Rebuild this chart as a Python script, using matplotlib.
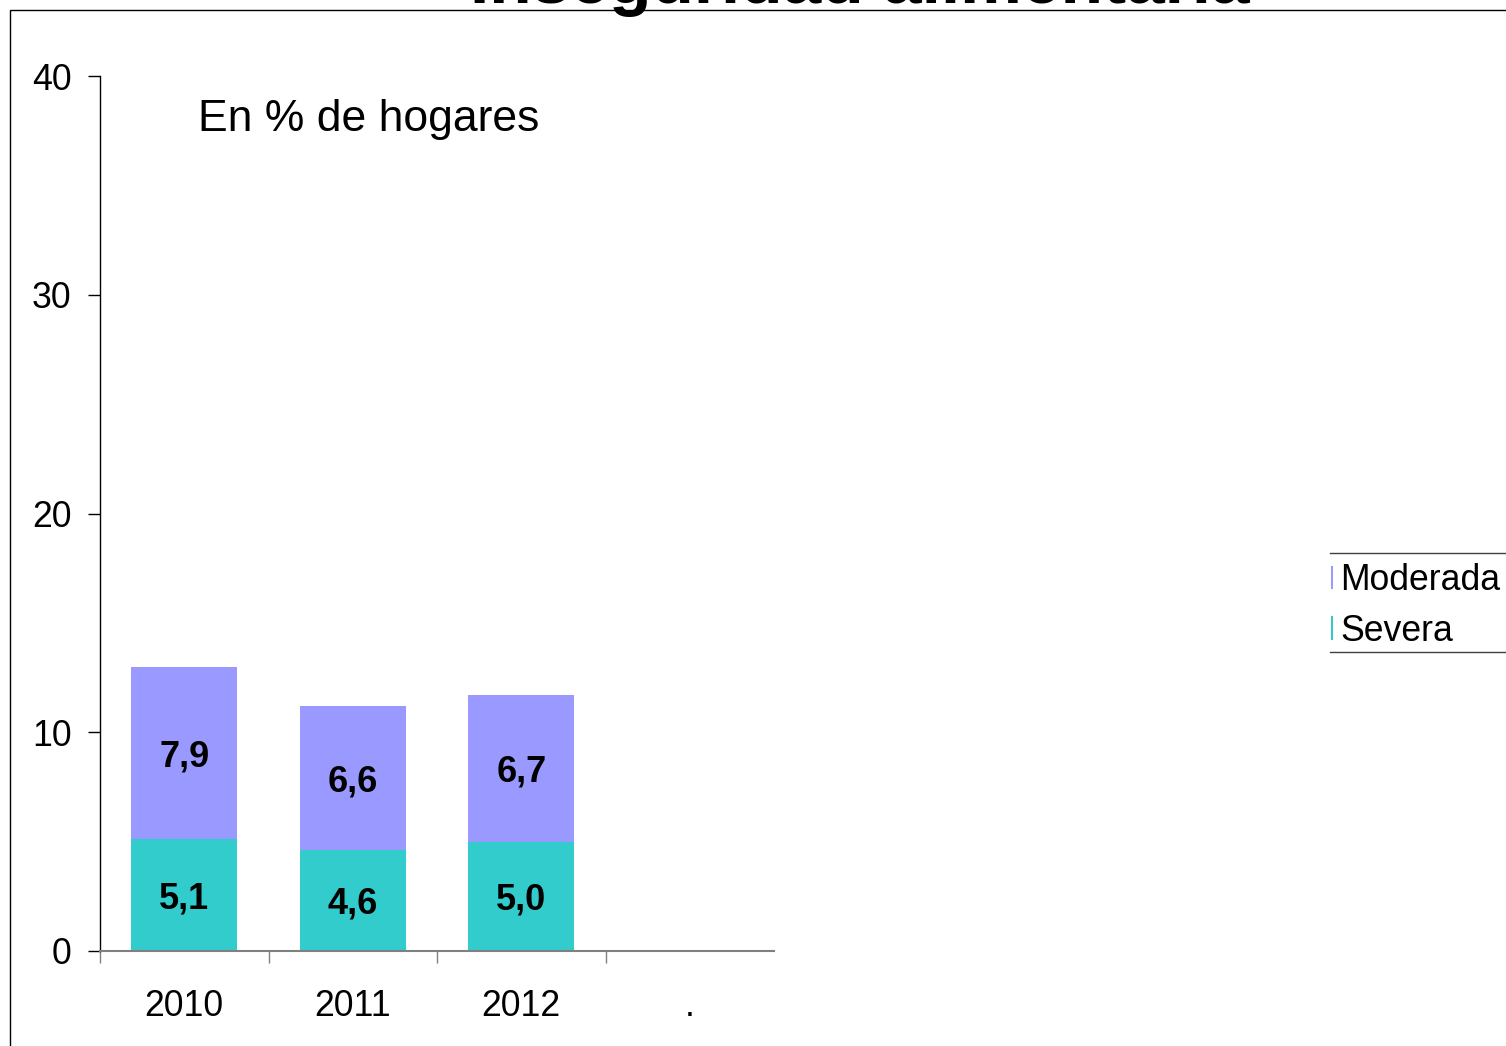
import matplotlib
matplotlib.use("Agg")
import matplotlib.pyplot as plt
from matplotlib.patches import Patch, Rectangle
from matplotlib.lines import Line2D
import matplotlib.transforms as mtransforms
import numpy as np

plt.rcParams['font.family'] = ['Liberation Sans', 'DejaVu Sans']

categories = ["2010", "2011", "2012", "."]
severa = [5.1, 4.6, 5.0]
moderada = [7.9, 6.6, 6.7]
series_names = ["Moderada", "Severa"]
title = "Inseguridad alimentaria"
subtitle = "En % de hogares"
yticks = [0, 10, 20, 30, 40]

c_sev = "#33CCCC"
c_mod = "#9999FF"

W, H = 1506, 1046
fig = plt.figure(figsize=(W / 100, H / 100), dpi=100)

def fx(px):
    return px / W

def fy(py):
    return 1 - py / H

ax = fig.add_axes([fx(100), fy(951), fx(674), (951 - 76) / H])

x = np.arange(len(severa))
bw = 0.63
ax.bar(x, severa, width=bw, color=c_sev, edgecolor='none', zorder=2)
ax.bar(x, moderada, width=bw, bottom=severa, color=c_mod, edgecolor='none', zorder=2)

# labels: digits centred on the segment middle (baseline shifted down by half cap height)
lab_tr = mtransforms.offset_copy(ax.transData, fig=fig, x=0, y=-13, units='dots')
for xi, s, m in zip(x, severa, moderada):
    ax.text(xi, s / 2, f"{s:.1f}".replace('.', ','), ha='center', va='baseline',
            fontsize=26, fontweight='bold', color='black', zorder=3, transform=lab_tr)
    ax.text(xi, s + m / 2, f"{m:.1f}".replace('.', ','), ha='center', va='baseline',
            fontsize=26, fontweight='bold', color='black', zorder=3, transform=lab_tr)

ax.set_xlim(-0.5, len(categories) - 0.5)
ax.set_ylim(0, 40)

for side in ['top', 'right']:
    ax.spines[side].set_visible(False)
ax.spines['left'].set_color('black')
ax.spines['left'].set_linewidth(1.0)
ax.spines['bottom'].set_color('#808080')
ax.spines['bottom'].set_linewidth(1.5)

ax.set_yticks(yticks)
ax.set_yticklabels([str(v) for v in yticks])
ax.tick_params(axis='y', direction='out', length=8.6, width=1.0, color='black',
               labelsize=25.7, pad=12)

ax.set_xticks(np.arange(len(categories)) - 0.5)
ax.set_xticklabels([])
ax.tick_params(axis='x', which='major', direction='out', length=8.6, width=1.0,
               color='#808080')
ax.set_xticks(np.arange(len(categories)), minor=True)
ax.set_xticklabels(categories, minor=True)
ax.tick_params(axis='x', which='minor', length=0, labelsize=25.7, pad=27)

fig.text(fx(198), fy(131), subtitle, fontsize=32, ha='left', va='baseline')

fig.text(fx(860), fy(3), title, fontsize=50, fontweight='bold',
         ha='center', va='baseline')

border = Rectangle((fx(10), -0.1), 1.2, fy(10) + 0.1, transform=fig.transFigure,
                   fill=False, edgecolor='black', linewidth=1.0, zorder=10)
fig.add_artist(border)

handles = [Patch(facecolor=c_mod, edgecolor='none'),
           Patch(facecolor=c_sev, edgecolor='none')]
leg = fig.legend(handles, series_names, loc='upper left',
                 bbox_to_anchor=(fx(1331), fy(563)), bbox_transform=fig.transFigure,
                 borderaxespad=0, fontsize=25.7, frameon=False,
                 handlelength=0.05, handleheight=0.64, handletextpad=0.2,
                 borderpad=0, labelspacing=0.44)

for yy in (553, 652):
    fig.add_artist(Line2D([fx(1330), 1.0], [fy(yy), fy(yy)], transform=fig.transFigure,
                          color='#404040', linewidth=1.0))

fig.savefig("out.png", dpi=100)
